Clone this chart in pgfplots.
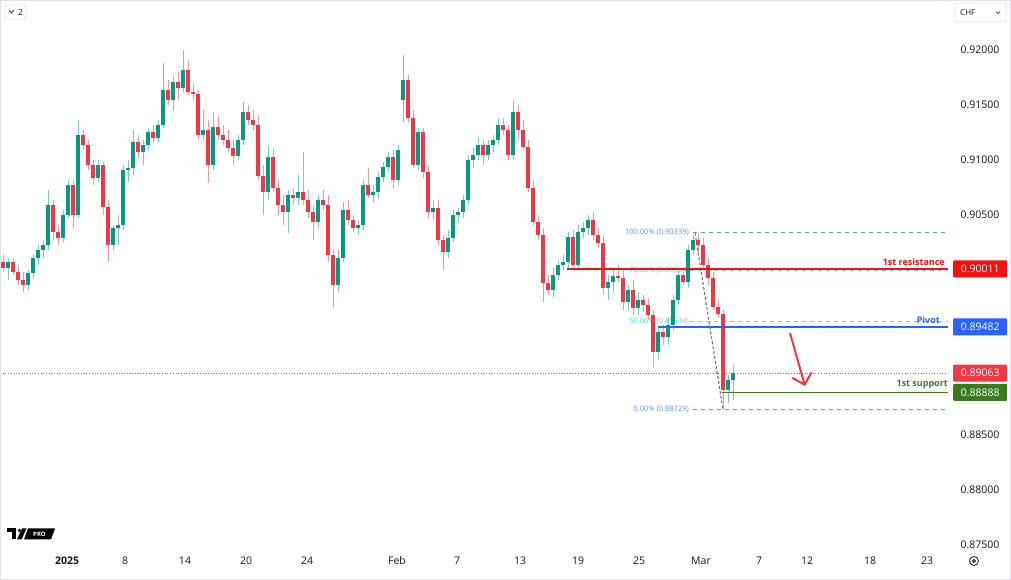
\documentclass[border=0pt]{standalone}
\usepackage{pgfplots}
\pgfplotsset{compat=1.18}
\usepackage{pgfplotstable}
\usepackage{fontspec}
\setmainfont{Open Sans}
\usetikzlibrary{arrows.meta}
\newcommand\fs[1]{\fontsize{#1}{#1}\selectfont}
\definecolor{upc}{HTML}{089981}
\definecolor{dnc}{HTML}{F23645}
\definecolor{upw}{HTML}{7CC8BC}
\definecolor{dnw}{HTML}{F7959E}
\definecolor{resc}{HTML}{F50F0F}
\definecolor{pivc}{HTML}{2962FF}
\definecolor{supc}{HTML}{3B7A1E}
\definecolor{fibb}{HTML}{5B9BD5}
\definecolor{fibc}{HTML}{5CCFDE}
\definecolor{tvtext}{HTML}{131722}
\definecolor{tvgrey}{HTML}{E0E3EB}
\definecolor{diag}{HTML}{6A6D78}

\pgfplotstableread{
x o h l c
8 0.90018 0.90109 0.89909 0.90073
28 0.89864 0.90000 0.89818 0.89973
33 0.89973 0.90136 0.89927 0.90109
38 0.90109 0.90227 0.90045 0.90182
43 0.90182 0.90273 0.90109 0.90227
48 0.90227 0.90727 0.90182 0.90591
63 0.90291 0.90545 0.90255 0.90500
68 0.90500 0.90818 0.90473 0.90773
78 0.90500 0.91364 0.90473 0.91227
98 0.90836 0.91000 0.90800 0.90955
113 0.90227 0.90409 0.90182 0.90382
118 0.90382 0.90500 0.90227 0.90409
123 0.90409 0.90955 0.90364 0.90909
128 0.90909 0.91000 0.90800 0.90927
133 0.90927 0.91273 0.90864 0.91164
143 0.91073 0.91182 0.90955 0.91136
148 0.91136 0.91291 0.91091 0.91255
158 0.91200 0.91364 0.91164 0.91318
163 0.91318 0.91882 0.91291 0.91636
173 0.91545 0.91773 0.91455 0.91709
183 0.91655 0.92000 0.91618 0.91818
203 0.91227 0.91455 0.91182 0.91273
213 0.90955 0.91436 0.90909 0.91300
238 0.91036 0.91227 0.91000 0.91182
243 0.91182 0.91527 0.91136 0.91436
268 0.90709 0.91136 0.90636 0.91027
288 0.90527 0.90727 0.90336 0.90682
298 0.90655 0.90864 0.90591 0.90709
318 0.90436 0.90682 0.90382 0.90636
338 0.89864 0.90182 0.89800 0.90109
343 0.90109 0.90618 0.90073 0.90545
358 0.90382 0.90455 0.90318 0.90409
363 0.90409 0.90818 0.90364 0.90773
373 0.90682 0.90773 0.90618 0.90709
378 0.90709 0.90891 0.90655 0.90845
383 0.90845 0.90982 0.90800 0.90936
388 0.90936 0.91073 0.90891 0.91027
398 0.90818 0.91136 0.90773 0.91091
403 0.91545 0.91955 0.91345 0.91727
418 0.90955 0.91291 0.90909 0.91255
433 0.90527 0.90636 0.90455 0.90564
448 0.90164 0.90364 0.90109 0.90291
453 0.90291 0.90545 0.90255 0.90500
458 0.90500 0.90564 0.90436 0.90527
463 0.90527 0.90682 0.90473 0.90636
468 0.90636 0.91045 0.90591 0.91000
473 0.91000 0.91109 0.90927 0.91045
478 0.91045 0.91200 0.91000 0.91136
488 0.91045 0.91182 0.91000 0.91136
493 0.91136 0.91227 0.91073 0.91182
498 0.91182 0.91382 0.91136 0.91318
513 0.91045 0.91545 0.91000 0.91436
553 0.89818 0.90018 0.89755 0.89955
558 0.89955 0.90091 0.89909 0.90045
563 0.90045 0.90136 0.90000 0.90073
568 0.90073 0.90345 0.90018 0.90300
578 0.90045 0.90409 0.90000 0.90345
583 0.90345 0.90436 0.90291 0.90382
588 0.90382 0.90500 0.90318 0.90455
608 0.89836 0.89955 0.89727 0.89891
613 0.89891 0.90000 0.89800 0.89945
628 0.89709 0.89864 0.89636 0.89818
638 0.89655 0.89800 0.89591 0.89727
658 0.89255 0.89473 0.89182 0.89436
668 0.89391 0.89564 0.89318 0.89500
673 0.89500 0.89773 0.89455 0.89727
678 0.89727 0.90000 0.89682 0.89955
688 0.89891 0.90227 0.89836 0.90182
693 0.90182 0.90318 0.90136 0.90273
728 0.88909 0.89045 0.88791 0.89000
733 0.89000 0.89136 0.88818 0.89063
}\uptab

\pgfplotstableread{
x o h l c
3 0.90073 0.90136 0.89982 0.90018
13 0.90073 0.90109 0.89955 0.89982
18 0.89982 0.90045 0.89864 0.89909
23 0.89909 0.89982 0.89800 0.89864
53 0.90591 0.90636 0.90273 0.90345
58 0.90345 0.90409 0.90227 0.90291
73 0.90773 0.90818 0.90382 0.90500
83 0.91227 0.91273 0.91091 0.91136
88 0.91136 0.91182 0.90909 0.90955
93 0.90955 0.91000 0.90773 0.90836
103 0.90955 0.90982 0.90500 0.90573
108 0.90573 0.90636 0.90073 0.90227
138 0.91164 0.91227 0.91018 0.91073
153 0.91255 0.91318 0.91164 0.91200
168 0.91636 0.91727 0.91500 0.91545
178 0.91709 0.91800 0.91545 0.91655
188 0.91818 0.91909 0.91591 0.91618
193 0.91618 0.91682 0.91545 0.91600
198 0.91600 0.91636 0.91182 0.91227
208 0.91273 0.91364 0.90791 0.90955
218 0.91300 0.91409 0.91182 0.91227
223 0.91227 0.91318 0.91136 0.91182
228 0.91182 0.91273 0.91073 0.91109
233 0.91109 0.91182 0.90955 0.91036
248 0.91436 0.91500 0.91318 0.91364
253 0.91364 0.91455 0.91273 0.91318
258 0.91318 0.91409 0.90818 0.90855
263 0.90855 0.90955 0.90500 0.90709
273 0.91027 0.91109 0.90709 0.90745
278 0.90745 0.90818 0.90500 0.90591
283 0.90591 0.90682 0.90409 0.90527
293 0.90682 0.90745 0.90591 0.90655
303 0.90709 0.91073 0.90591 0.90636
308 0.90636 0.90727 0.90473 0.90527
313 0.90527 0.90591 0.90273 0.90436
323 0.90636 0.90727 0.90545 0.90591
328 0.90591 0.90682 0.90073 0.90136
333 0.90136 0.90182 0.89655 0.89864
348 0.90545 0.90636 0.90409 0.90455
353 0.90455 0.90500 0.90345 0.90382
368 0.90773 0.90927 0.90655 0.90682
393 0.91027 0.91091 0.90745 0.90818
408 0.91727 0.91773 0.91345 0.91382
413 0.91382 0.91455 0.90927 0.90955
423 0.91255 0.91291 0.90836 0.90891
428 0.90891 0.90955 0.90473 0.90527
438 0.90564 0.90636 0.90227 0.90273
443 0.90273 0.90318 0.90000 0.90164
483 0.91136 0.91182 0.90955 0.91045
503 0.91318 0.91382 0.91227 0.91273
508 0.91273 0.91318 0.91000 0.91045
518 0.91436 0.91500 0.91182 0.91273
523 0.91273 0.91364 0.91091 0.91118
528 0.91118 0.91182 0.90709 0.90745
533 0.90745 0.90818 0.90409 0.90436
538 0.90436 0.90500 0.90273 0.90318
543 0.90318 0.90382 0.89709 0.89882
548 0.89882 0.89955 0.89773 0.89818
573 0.90300 0.90364 0.90000 0.90045
593 0.90455 0.90527 0.90273 0.90318
598 0.90318 0.90382 0.90200 0.90245
603 0.90245 0.90318 0.89773 0.89836
618 0.89945 0.90045 0.89891 0.89927
623 0.89927 0.90000 0.89636 0.89709
633 0.89818 0.89909 0.89591 0.89655
643 0.89727 0.89773 0.89618 0.89682
648 0.89682 0.89745 0.89545 0.89591
653 0.89591 0.89636 0.89118 0.89255
663 0.89436 0.89500 0.89318 0.89391
683 0.89955 0.90018 0.89864 0.89891
698 0.90273 0.90339 0.90164 0.90227
703 0.90227 0.90291 0.90018 0.90045
708 0.90045 0.90109 0.89864 0.89927
713 0.89927 0.89982 0.89636 0.89664
718 0.89664 0.89727 0.89564 0.89600
723 0.89600 0.89636 0.88729 0.88909
}\dntab

\begin{document}
\begin{tikzpicture}[x=1pt,y=1pt]
\useasboundingbox (0,0) rectangle (1011,580);
\fill[white] (0,0) rectangle (1011,580);
\begin{axis}[
  at={(0pt,30pt)}, anchor=south west,
  scale only axis, width=948pt, height=550pt,
  xmin=0, xmax=948, ymin=0.8745454, ymax=0.9245454,
  enlargelimits=false,
  axis line style={draw=none}, major tick length=0pt,
  clip mode=individual,
  xtick={67,125,185,246,307,397,457,520,578,639,701,759,807,870,927},
  xticklabels={\textbf{2025},8,14,20,24,Feb,7,13,19,25,Mar,7,12,18,23},
  xticklabel style={anchor=center, yshift=-11pt, font=\fs{10.5}, text=tvtext},
  ytick={0.875,0.88,0.885,0.905,0.91,0.915,0.92},
  yticklabels={0.87500,0.88000,0.88500,0.90500,0.91000,0.91500,0.92000},
  yticklabel pos=right,
  yticklabel style={anchor=center, xshift=32pt, font=\fs{10.5}, text=tvtext},
]
% current price dotted line
\addplot[dnc, dotted, line width=0.7pt, forget plot] coordinates {(0,0.89063) (948,0.89063)};
% fib levels
\addplot[fibb, dash pattern=on 4pt off 4pt, line width=0.9pt, forget plot] coordinates {(693,0.90339) (948,0.90339)};
\addplot[fibc, dash pattern=on 4pt off 4pt, line width=1.4pt, forget plot] coordinates {(690,0.89994) (948,0.89994)};
\addplot[fibc, dash pattern=on 4pt off 4pt, line width=1.2pt, forget plot] coordinates {(690,0.89534) (948,0.89534)};
\addplot[fibb, dash pattern=on 4pt off 4pt, line width=0.9pt, forget plot] coordinates {(693,0.88729) (948,0.88729)};
\node[anchor=east, text=fibb, font=\fs{7.5}, inner sep=1pt] at (axis cs:690,0.90339) {100.00\% (0.90339)};
\node[anchor=east, text=fibc, font=\fs{7.5}, inner sep=1pt] at (axis cs:690,0.89994) {78.60\% (0.89994)};
\node[anchor=east, text=fibc, font=\fs{7.5}, inner sep=1pt] at (axis cs:690,0.89534) {50.00\% (0.89534)};
\node[anchor=east, text=fibb, font=\fs{7.5}, inner sep=1pt] at (axis cs:690,0.88729) {0.00\% (0.88729)};
% trend line of fib
\addplot[diag, dash pattern=on 3pt off 2pt, line width=1pt, forget plot] coordinates {(695,0.90339) (723,0.88729)};
% wicks
\addplot[draw=none, mark=none, forget plot, error bars/.cd, y dir=plus, y explicit, error mark=none,
  error bar style={draw=upw, line width=1pt, solid}]
  table[x=x, y=l, y error plus expr=\thisrow{h}-\thisrow{l}] {\uptab};
\addplot[draw=none, mark=none, forget plot, error bars/.cd, y dir=plus, y explicit, error mark=none,
  error bar style={draw=dnw, line width=1pt, solid}]
  table[x=x, y=l, y error plus expr=\thisrow{h}-\thisrow{l}] {\dntab};
% bodies
\addplot[draw=none, mark=none, forget plot, error bars/.cd, y dir=plus, y explicit, error mark=none,
  error bar style={draw=upc, line width=3.4pt, solid}]
  table[x=x, y=o, y error plus expr=\thisrow{c}-\thisrow{o}] {\uptab};
\addplot[draw=none, mark=none, forget plot, error bars/.cd, y dir=plus, y explicit, error mark=none,
  error bar style={draw=dnc, line width=3.4pt, solid}]
  table[x=x, y=c, y error plus expr=\thisrow{o}-\thisrow{c}] {\dntab};
% levels
\addplot[resc, line width=1.5pt, forget plot] coordinates {(567,0.90011) (948,0.90011)};
\addplot[pivc, line width=1.5pt, forget plot] coordinates {(658,0.89482) (948,0.89482)};
\addplot[supc, line width=1.5pt, forget plot] coordinates {(722,0.88888) (948,0.88888)};
\node[anchor=south east, text=resc, font=\bfseries\fs{9}, inner sep=1pt, yshift=2pt] at (axis cs:946,0.90011) {1st resistance};
\node[anchor=south east, text=pivc, font=\bfseries\fs{9}, inner sep=1pt, yshift=2pt] at (axis cs:941,0.89482) {Pivot};
\node[anchor=south east, text=supc, font=\bfseries\fs{9}, inner sep=1pt, yshift=2pt] at (axis cs:949,0.88888) {1st support};
% arrow
\draw[dnc, line width=2pt, -{Straight Barb[length=10pt,width=20pt]}] (axis cs:790,0.89427) -- (axis cs:805,0.88945);
\coordinate (pr) at (axis cs:948,0.90011);
\coordinate (pp) at (axis cs:948,0.89482);
\coordinate (pc) at (axis cs:948,0.89063);
\coordinate (ps) at (axis cs:948,0.88888);
\end{axis}
% price boxes
\tikzset{pbox/.style={anchor=west, text=white, font=\fs{10.5}, minimum width=54pt, minimum height=17pt, inner sep=0pt, rounded corners=1pt}}
\node[pbox, fill=resc] at ([xshift=5pt]pr) {0.90011};
\node[pbox, fill=pivc] at ([xshift=5pt]pp) {0.89482};
\node[pbox, fill=dnc] at ([xshift=5pt]pc) {0.89063};
\node[pbox, fill=supc] at ([xshift=5pt]ps) {0.88888};
% top-left control
\draw[tvgrey, line width=0.8pt, rounded corners=2pt] (5,561) rectangle (26,575);
\draw[tvtext, line width=0.7pt] (9,569.5) -- (11.5,567) -- (14,569.5);
\node[text=tvtext, font=\fs{8.5}, inner sep=0pt] at (20.5,568) {2};
% top-right currency box
\draw[tvgrey, line width=0.8pt, rounded corners=2pt] (955,558) rectangle (1006,577);
\node[text=tvtext, font=\fs{8}, inner sep=0pt, anchor=west] at (960,567.5) {CHF};
\draw[tvtext, line width=0.6pt] (996,568.5) -- (998,566.5) -- (1000,568.5);
% settings icon
\draw[tvtext, line width=0.8pt] (974,19) circle (4.5);
\draw[tvtext, line width=0.8pt] (974,19) circle (1.5);
% TV logo
\fill[black] (7,48) rectangle (16,51.5);
\fill[black] (11.5,40.5) rectangle (16,51.5);
\fill[black] (19.5,49.5) circle (1.8);
\fill[black] (17,40.5) -- (21.5,40.5) -- (26.5,51.5) -- (22,51.5) -- cycle;
\fill[black] (24,40.5) -- (51,40.5) -- (55,51.5) -- (28,51.5) -- cycle;
\node[text=white, font=\bfseries\fs{6}, inner sep=0pt] at (39.5,46) {PRO};
% outer frame
\draw[tvgrey, line width=1pt] (0.5,0.5) rectangle (1010.5,579.5);
\end{tikzpicture}
\end{document}
